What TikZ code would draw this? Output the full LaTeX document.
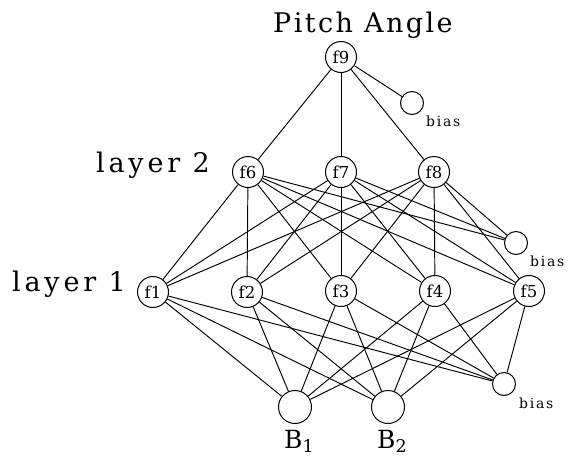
\documentclass[tikz,border=0pt]{standalone}
\usepackage{fontspec}
\newfontfamily\lblfont{DejaVu Serif}
\newfontfamily\lblwide[LetterSpace=9]{DejaVu Serif}
\newfontfamily\lbllayer[LetterSpace=14]{DejaVu Serif}
\newfontfamily\lblbias[LetterSpace=12]{DejaVu Serif}
\begin{document}
\begin{tikzpicture}[x=1pt,y=-1pt,
  neuron/.style={circle,draw,line width=1pt,minimum size=31pt,inner sep=0pt,
    font=\lblfont\fontsize{16.5}{16.5}\selectfont},
  biasnode/.style={circle,draw,line width=1pt,minimum size=23pt,inner sep=0pt},
  outnode/.style={circle,draw,line width=1pt,minimum size=33pt,inner sep=0pt},
  biaslabel/.style={font=\lblbias\fontsize{14}{14}\selectfont,inner sep=0pt,anchor=base west},
  titlelabel/.style={font=\lblwide\fontsize{27}{27}\selectfont,inner sep=0pt,anchor=base west},
  layerlabel/.style={font=\lbllayer\fontsize{27}{27}\selectfont,inner sep=0pt,anchor=base west},
  blabel/.style={font=\lblfont\fontsize{25}{25}\selectfont,inner sep=0pt,anchor=base west},
  conn/.style={line width=0.95pt}]
\useasboundingbox (0,0) rectangle (568,456);
% nodes
\node[neuron] (f9) at (341,57) {f9};
\node[biasnode] (bt) at (412,103) {};
\node[neuron] (f6) at (248,172) {f6};
\node[neuron] (f7) at (341,172) {f7};
\node[neuron] (f8) at (434,172) {f8};
\node[biasnode] (bm) at (516,243) {};
\node[neuron] (f1) at (153,292) {f1};
\node[neuron] (f2) at (247,292) {f2};
\node[neuron] (f3) at (341,291) {f3};
\node[neuron] (f4) at (435,291) {f4};
\node[neuron] (f5) at (529,291) {f5};
\node[biasnode] (bb) at (504,384) {};
\node[outnode] (b1) at (295,407) {};
\node[outnode] (b2) at (388,407) {};
% labels
\node[titlelabel] (lp) at (273,32) {Pitch Angle};
\node[layerlabel] (l2) at (96,172) {layer 2};
\node[layerlabel] (l1) at (12,291) {layer 1};
\node[biaslabel] (tb1) at (426,126) {bias};
\node[biaslabel] (tb2) at (530,266) {bias};
\node[biaslabel] (tb3) at (519,408) {bias};
\node[blabel] (tB1) at (284,448) {B\textsubscript{1}};
\node[blabel] (tB2) at (377,448) {B\textsubscript{2}};
% connectors
\foreach \a in {f6,f7,f8,bt} \draw[conn] (f9) -- (\a);
\foreach \a in {f6,f7,f8} {
  \foreach \b in {f1,f2,f3,f4,f5,bm} \draw[conn] (\a) -- (\b);
}
\foreach \a in {f1,f2,f3,f4,f5} {
  \foreach \b in {b1,b2,bb} \draw[conn] (\a) -- (\b);
}
\end{tikzpicture}
\end{document}
